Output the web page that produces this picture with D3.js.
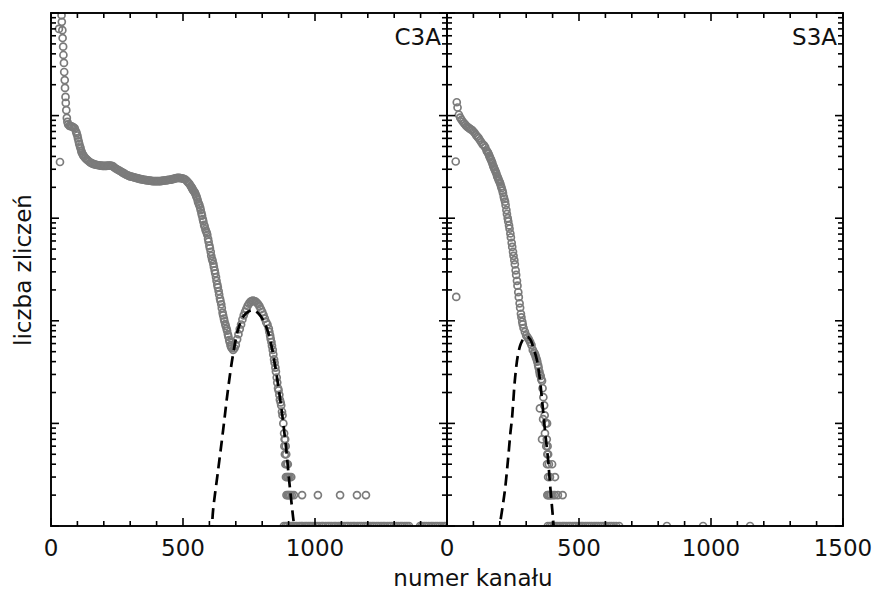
<!DOCTYPE html>
<html>
<head>
<meta charset="utf-8">
<script src="https://cdn.jsdelivr.net/npm/d3@7"></script>
<style>
  body { margin: 0; background: #fff; }
  svg { display: block; }
</style>
</head>
<body>
<script>
// channel numbers and counts
const c3aPoints = [
  [30, 70000], [34, 3530],
  [40, 95000], [41, 82000], [43, 68000], [44, 57000], [46, 47000], [47, 39000],
  [49, 32600], [50, 26600], [52, 22200], [53, 18600], [55, 15200], [56, 13300],
  [58, 11300], [60, 9500], [62, 8700],
  [65, 8200], [70, 7950], [75, 7900], [80, 7800], [85, 7700], [90, 7500], [95, 7000],
  [97, 6700], [100, 6400], [102, 6000], [105, 5600], [107, 5300], [110, 5000],
  [112, 4800], [115, 4500], [117, 4350], [120, 4200], [122, 4100], [125, 4000],
  [130, 3850], [135, 3750], [140, 3650], [145, 3550], [150, 3480], [155, 3420],
  [160, 3380], [165, 3350], [170, 3320], [175, 3300], [180, 3280], [185, 3260],
  [190, 3250], [195, 3240], [200, 3230], [205, 3230], [210, 3240], [215, 3250],
  [220, 3260], [225, 3260], [230, 3240], [235, 3200], [240, 3120], [245, 3050],
  [250, 3000], [255, 2950], [260, 2900], [265, 2850], [270, 2800], [275, 2750],
  [280, 2700], [285, 2650], [290, 2620], [295, 2580], [300, 2560], [305, 2540],
  [310, 2520], [315, 2500], [320, 2480], [325, 2460], [330, 2440], [335, 2420],
  [340, 2400], [345, 2390], [350, 2370], [355, 2360], [360, 2350], [365, 2340],
  [370, 2330], [375, 2320], [380, 2310], [385, 2300], [390, 2300], [395, 2300],
  [400, 2300], [405, 2300], [410, 2300], [415, 2300], [420, 2310], [425, 2320],
  [430, 2330], [435, 2340], [440, 2350], [445, 2360], [450, 2370], [455, 2380],
  [460, 2400], [465, 2420], [470, 2440], [475, 2460], [480, 2470], [485, 2470],
  [490, 2460], [495, 2450], [500, 2430], [505, 2410], [510, 2370], [515, 2300],
  [520, 2220], [525, 2150], [530, 2050], [532, 2010], [535, 1950], [537, 1900],
  [540, 1850], [542, 1820], [545, 1780], [547, 1720], [550, 1650], [552, 1600],
  [555, 1520], [557, 1440], [560, 1380], [562, 1340], [565, 1270], [567, 1200],
  [570, 1120], [572, 1060], [575, 980], [577, 930], [580, 860], [582, 830],
  [585, 780], [587, 750], [590, 720], [592, 690], [595, 630], [597, 590],
  [600, 540], [602, 510], [605, 470], [607, 430], [610, 400], [612, 385],
  [615, 360], [617, 335], [620, 310], [622, 290], [625, 267], [627, 245],
  [630, 225], [632, 212], [635, 195], [637, 180], [640, 165], [642, 156],
  [645, 145], [647, 133], [650, 120], [652, 113], [655, 105], [657, 99],
  [660, 93], [662, 89], [665, 84], [667, 80], [670, 74], [672, 70], [675, 65],
  [677, 62], [680, 58], [682, 56], [685, 54], [690, 52], [695, 54], [700, 58],
  [705, 66], [710, 74], [715, 83], [720, 92], [725, 103], [730, 113], [735, 122],
  [740, 131], [745, 140], [750, 147], [755, 153], [760, 156], [765, 157],
  [770, 156], [775, 154], [780, 150], [785, 145], [790, 138], [795, 130],
  [800, 122], [805, 114], [810, 105], [815, 97], [820, 92], [825, 84], [827, 78],
  [830, 72], [832, 67], [835, 62], [837, 57], [840, 52], [842, 47], [845, 42],
  [847, 39], [850, 35], [852, 32], [855, 28], [857, 25], [860, 22], [862, 21],
  [865, 19], [867, 17], [870, 16], [872, 15], [875, 13], [877, 12], [880, 10],
  [883, 8], [885, 7], [887, 7], [884, 6], [889, 6], [886, 5], [891, 5], [888, 4],
  [893, 4], [897, 4], [890, 3], [895, 3], [899, 3], [904, 3], [910, 3],
  [892, 2], [897, 2], [901, 2], [906, 2], [912, 2], [920, 2], [951, 2],
  [1011, 2], [1095, 2], [1159, 2], [1193, 2]
];
// channels holding a single count (drawn on the bottom edge)
const c3aOnes = [
  882, 889, 895, 903, 910, 918, 924, 931, 940, 947, 953, 962, 969, 977, 984, 992,
  1001, 1008, 1016, 1025, 1031, 1040, 1048, 1055, 1063, 1072, 1079, 1088, 1096,
  1103, 1112, 1120, 1127, 1136, 1144, 1151, 1160, 1168, 1176, 1185, 1193, 1200,
  1209, 1217, 1224, 1233, 1241, 1250, 1258, 1265, 1274, 1282, 1290, 1299, 1307,
  1315, 1324, 1331, 1340, 1348, 1356, 1398, 1405, 1414, 1422, 1431, 1440, 1447,
  1456, 1464, 1473, 1481, 1490, 1497
];
const c3aFit = [
  [606, 0.8], [610, 1.02], [614, 1.43], [633, 3.5], [652, 8.6], [670, 21],
  [689, 46], [708, 81], [727, 109], [746, 122], [765, 127], [784, 119],
  [803, 102], [822, 78], [837, 54], [856, 28], [875, 12.6], [890, 5.9],
  [902, 2.8], [917, 1.22], [926, 0.8]
];

const s3aPoints = [
  [33, 3570], [35, 171],
  [37, 13500], [40, 12000], [45, 10200], [50, 9550], [55, 9120], [60, 8710],
  [65, 8410], [70, 8130], [75, 7850], [80, 7670], [85, 7500], [90, 7330],
  [95, 7240], [100, 7000], [105, 6760], [110, 6460], [115, 6240], [120, 6030],
  [125, 5750], [130, 5500], [135, 5250], [140, 5130], [145, 4900], [150, 4570],
  [152, 4470], [155, 4370], [157, 4250], [160, 4070], [162, 3950], [165, 3800],
  [167, 3700], [170, 3550], [172, 3420], [175, 3240], [177, 3150], [180, 3020],
  [182, 2930], [185, 2820], [187, 2720], [190, 2570], [192, 2500], [195, 2400],
  [197, 2320], [200, 2240], [202, 2160], [205, 2040], [207, 1960], [210, 1860],
  [212, 1760], [215, 1620], [217, 1540], [220, 1450], [222, 1340], [225, 1200],
  [227, 1100], [230, 1000], [232, 930], [235, 850], [237, 790], [240, 710],
  [242, 650], [245, 575], [247, 525], [250, 470], [252, 430], [255, 390],
  [257, 355], [260, 310], [262, 280], [265, 245], [267, 220], [270, 190],
  [272, 170], [275, 148], [277, 134], [280, 117], [282, 108], [285, 98],
  [287, 92], [290, 85], [295, 78], [300, 72], [305, 69],
  [310, 66], [315, 62], [320, 58], [325, 52], [330, 49], [332, 48], [335, 46],
  [337, 44], [340, 42], [342, 40], [345, 37], [347, 35], [350, 32], [352, 30],
  [355, 29], [357, 27], [360, 26], [362, 22],
  [352, 14], [360, 7], [364, 11], [365, 18], [368, 15], [370, 12], [371, 8],
  [374, 10], [379, 10], [378, 7], [376, 6], [381, 6], [383, 5], [380, 5],
  [379, 4], [386, 4], [398, 4], [383, 3], [390, 3], [409, 3],
  [380, 2], [384, 2], [388, 2], [393, 2], [400, 2], [408, 2], [420, 2], [438, 2]
];
const s3aOnes = [
  382, 390, 397, 405, 413, 420, 428, 437, 444, 452, 460, 467, 476, 484, 491, 500,
  508, 515, 524, 532, 540, 548, 557, 565, 573, 582, 590, 598, 606, 615, 623, 632,
  641, 652, 833, 970, 1148
];
const s3aFit = [
  [197, 0.8], [201, 1.05], [210, 1.5], [220, 2.3], [231, 4.4], [240, 8],
  [246, 11], [250, 15], [258, 28], [269, 47], [280, 60], [290, 67], [303, 70],
  [315, 66], [326, 56], [341, 41], [352, 26.5], [360, 17], [371, 8.6],
  [383, 4.4], [390, 2.6], [402, 1.14], [406, 0.8]
];

const panelNames = ["C3A", "S3A"];
const xMajorTicks = [0, 500, 1000, 1500];
const xLabelTicks = [[0, 500, 1000], [0, 500, 1000, 1500]];
const yDecades = [1, 10, 100, 1000, 10000, 100000];
const xTitle = "numer kanału";
const yTitle = "liczba zliczeń";

const width = 877, height = 596;
const plotTop = 13, plotBottom = 526;
const font = "'DejaVu Sans', sans-serif";

const svg = d3.select("body").append("svg")
  .attr("width", width)
  .attr("height", height);

const y = d3.scaleLog().domain([1, 1e5]).range([plotBottom, plotTop]);
// minor log ticks 2..9 in every decade
const yMinor = yDecades.slice(0, -1).flatMap(d => d3.range(2, 10).map(m => m * d));
const xMinorTicks = d3.range(0, 1501, 100).filter(v => v % 500);

const panels = [
  { x0: 51, x1: 447, points: c3aPoints, ones: c3aOnes, fit: c3aFit },
  { x0: 447, x1: 843, points: s3aPoints, ones: s3aOnes, fit: s3aFit }
];

panels.forEach((p, i) => {
  const x = d3.scaleLinear().domain([0, 1500]).range([p.x0, p.x1]);

  svg.append("clipPath").attr("id", "clip" + i)
    .append("rect")
    .attr("x", p.x0).attr("y", plotTop)
    .attr("width", p.x1 - p.x0).attr("height", plotBottom - plotTop);

  const plot = svg.append("g").attr("clip-path", `url(#clip${i})`);
  const all = p.points.concat(p.ones.map(c => [c, 1]));

  plot.append("g")
    .selectAll("circle")
    .data(all)
    .join("circle")
    .attr("cx", d => x(d[0]))
    .attr("cy", d => y(d[1]))
    .attr("r", 3.5)
    .attr("fill", "none")
    .attr("stroke", "#7b7b7b")
    .attr("stroke-width", 1.7);

  plot.append("path")
    .datum(p.fit)
    .attr("d", d3.line().x(d => x(d[0])).y(d => y(d[1])).curve(d3.curveCatmullRom))
    .attr("fill", "none")
    .attr("stroke", "#000")
    .attr("stroke-width", 2.7)
    .attr("stroke-dasharray", "11,6");

  // inward ticks on all four sides
  const xTicks = xMajorTicks.map(v => [v, 8]).concat(xMinorTicks.map(v => [v, 5]));
  const yTicks = yDecades.map(v => [v, 8]).concat(yMinor.map(v => [v, 5]));

  svg.append("g").attr("stroke", "#000").attr("stroke-width", 1.6)
    .selectAll("line").data(xTicks).join("line")
    .attr("x1", d => x(d[0])).attr("x2", d => x(d[0]))
    .attr("y1", plotBottom).attr("y2", d => plotBottom - d[1]);
  svg.append("g").attr("stroke", "#000").attr("stroke-width", 1.6)
    .selectAll("line").data(xTicks).join("line")
    .attr("x1", d => x(d[0])).attr("x2", d => x(d[0]))
    .attr("y1", plotTop).attr("y2", d => plotTop + d[1]);
  svg.append("g").attr("stroke", "#000").attr("stroke-width", 1.6)
    .selectAll("line").data(yTicks).join("line")
    .attr("y1", d => y(d[0])).attr("y2", d => y(d[0]))
    .attr("x1", p.x0).attr("x2", d => p.x0 + d[1]);
  svg.append("g").attr("stroke", "#000").attr("stroke-width", 1.6)
    .selectAll("line").data(yTicks).join("line")
    .attr("y1", d => y(d[0])).attr("y2", d => y(d[0]))
    .attr("x1", p.x1).attr("x2", d => p.x1 - d[1]);

  svg.append("g")
    .selectAll("text")
    .data(xLabelTicks[i])
    .join("text")
    .attr("x", d => x(d))
    .attr("y", plotBottom + 30)
    .attr("text-anchor", "middle")
    .attr("font-family", font)
    .attr("font-size", 23)
    .attr("fill", "#111")
    .text(d => d);

  svg.append("rect")
    .attr("x", p.x0).attr("y", plotTop)
    .attr("width", p.x1 - p.x0).attr("height", plotBottom - plotTop)
    .attr("fill", "none")
    .attr("stroke", "#000")
    .attr("stroke-width", 1.9);

  svg.append("text")
    .attr("x", p.x1 - 6)
    .attr("y", 45)
    .attr("text-anchor", "end")
    .attr("font-family", font)
    .attr("font-size", 23)
    .attr("fill", "#111")
    .text(panelNames[i]);
});

svg.append("text")
  .attr("x", 473)
  .attr("y", 586)
  .attr("text-anchor", "middle")
  .attr("font-family", font)
  .attr("font-size", 23)
  .attr("fill", "#111")
  .text(xTitle);

svg.append("text")
  .attr("transform", "translate(31,270) rotate(-90)")
  .attr("text-anchor", "middle")
  .attr("font-family", font)
  .attr("font-size", 23)
  .attr("fill", "#111")
  .text(yTitle);
</script>
</body>
</html>
